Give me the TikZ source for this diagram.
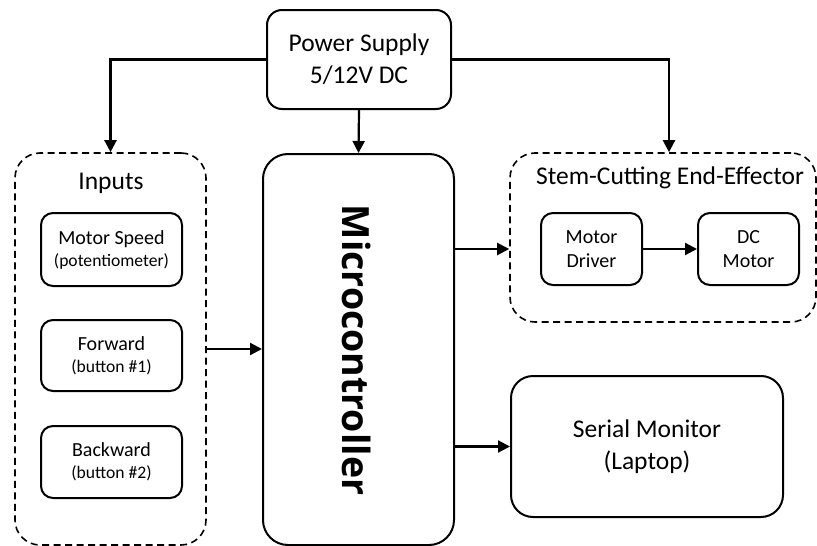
\documentclass[tikz,border=0pt]{standalone}
\usepackage{fontspec}
\setmainfont{Carlito}
\newfontfamily\mcfont{Open Sans}
\usetikzlibrary{arrows.meta,calc}
\tikzset{
  box/.style={draw, line width=2pt, rounded corners=#1, align=center, inner sep=0pt},
  box/.default=14pt,
  group/.style={draw, line width=1.6pt, dash pattern=on 7pt off 4.5pt, rounded corners=25pt, inner sep=0pt},
  arr/.style={draw, line width=2.2pt, -{Triangle[length=12pt,width=12pt]}},
  big/.style={font=\fontsize{25.5}{32}\selectfont},
  mid/.style={font=\fontsize{20}{24}\selectfont},
}
\newcommand{\subl}[1]{{\fontsize{17.6}{22}\selectfont #1}}
\begin{document}
\begin{tikzpicture}[x=1pt,y=-1pt]
\useasboundingbox (0,0) rectangle (817,546);
% groups
\node[group, minimum width=191pt, minimum height=392pt] (inputs) at (110.5,349) {};
\node[group, minimum width=306pt, minimum height=169pt] (stem) at (663,237.5) {};
% main boxes
\node[box=15pt, big, minimum width=184pt, minimum height=99pt] (ps) at (359,59.5) {Power Supply\\5/12V DC};
\node[box=25pt, minimum width=191pt, minimum height=391pt] (mc) at (358.5,349.5) {};
\node[rotate=-90, font=\mcfont\bfseries\fontsize{37.5}{37.5}\selectfont] (mctext) at (357,350) {Microcontroller};
\node[box=22pt, big, minimum width=272pt, minimum height=141pt] (serial) at (647,446.5) {Serial Monitor\\(Laptop)};
% titles
\node[big] (inputstitle) at (111,183) {Inputs};
\node[big] (stemtitle) at (670,178) {Stem-Cutting End-Effector};
% inputs
\node[box=12pt, mid, minimum width=141pt, minimum height=73pt] (in1) at (111.5,249.5) {Motor Speed\\[-2pt]\subl{(potentiometer)}};
\node[box=12pt, mid, minimum width=141pt, minimum height=71pt] (in2) at (111.5,355.5) {Forward\\[-2pt]\subl{(button \#1)}};
\node[box=12pt, mid, minimum width=141pt, minimum height=72pt] (in3) at (111.5,462) {Backward\\[-2pt]\subl{(button \#2)}};
% stem parts
\node[box=12pt, mid, minimum width=101pt, minimum height=72pt] (md) at (591.5,249) {Motor\\Driver};
\node[box=12pt, mid, minimum width=101pt, minimum height=72pt] (dcm) at (748.5,249) {DC\\Motor};
% connectors
\draw[arr] (ps.west) -| (inputs.north);
\draw[arr] (ps.south) -- (mc.north);
\draw[arr] (ps.east) -| ([xshift=6pt]stem.north);
\draw[arr] (inputs.east) -- (inputs.east -| mc.west);
\draw[arr] (mc.east |- md.west) -- (stem.west |- md.west);
\draw[arr] (mc.east |- serial.west) -- (serial.west);
\draw[arr] (md.east) -- (dcm.west);
\end{tikzpicture}
\end{document}
